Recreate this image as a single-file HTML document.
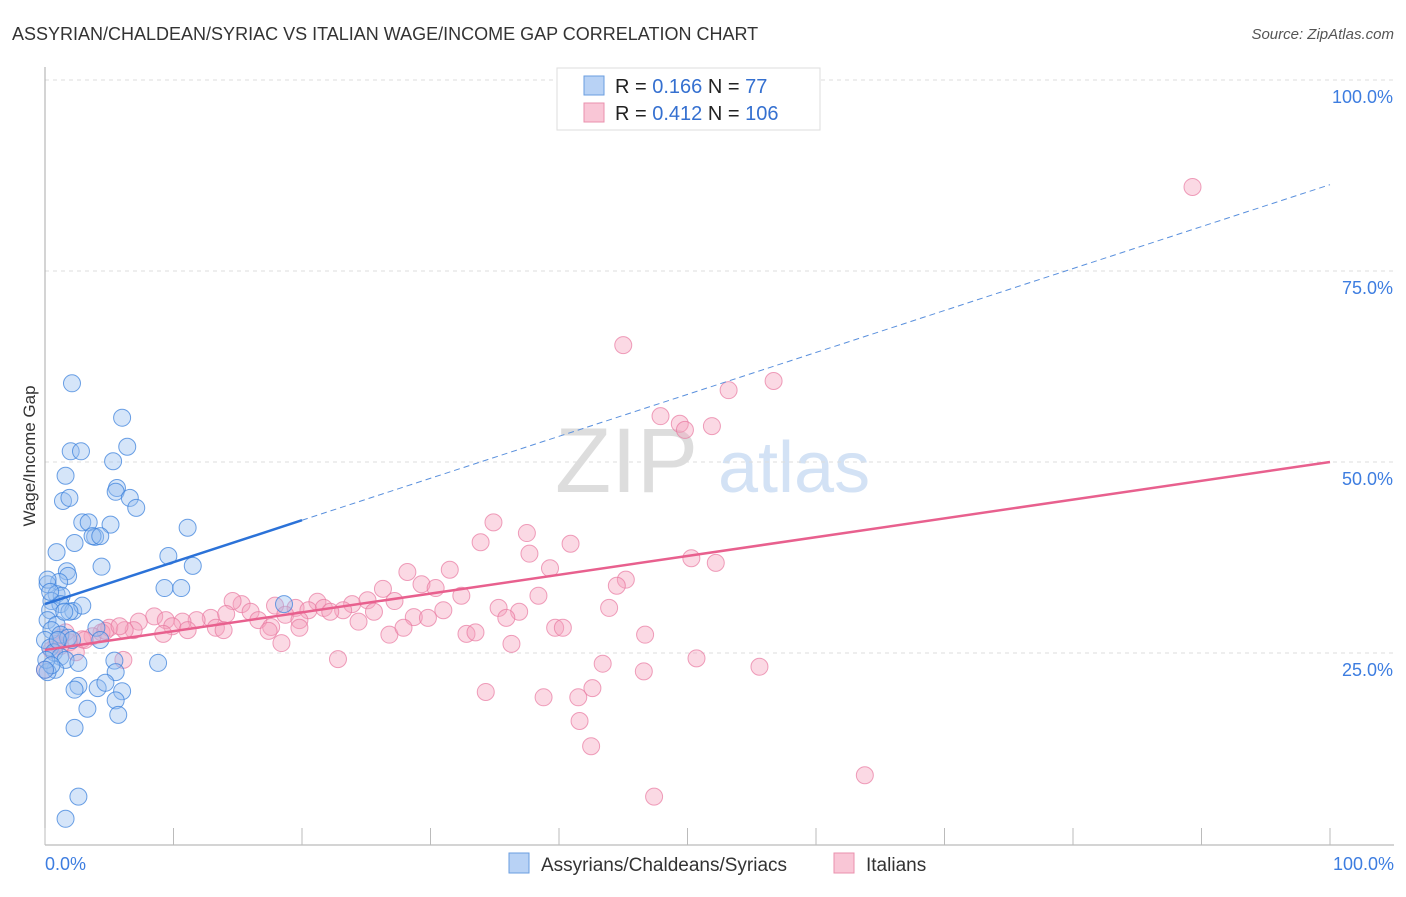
<!DOCTYPE html>
<html><head><meta charset="utf-8"><style>
body{margin:0;background:#fff;font-family:"Liberation Sans",sans-serif}
svg text{font-family:"Liberation Sans",sans-serif}
</style></head><body>
<svg id="c" width="1406" height="892">
<text x="12" y="40" font-size="18" fill="#333">ASSYRIAN/CHALDEAN/SYRIAC VS ITALIAN WAGE/INCOME GAP CORRELATION CHART</text>
<text x="1394" y="39" font-size="15" fill="#555" font-style="italic" text-anchor="end">Source: ZipAtlas.com</text>
<text x="35" y="456" font-size="17" fill="#333" text-anchor="middle" transform="rotate(-90 35 456)">Wage/Income Gap</text>
<text x="555" y="492" font-size="92" fill="#ddd" font-family="Liberation Serif">ZIP</text>
<text x="718" y="492" font-size="72" fill="#d3e2f5">atlas</text>
<g id="grid"></g><g id="axes"></g><g id="pts"></g><g id="lines"></g>
<g>
<rect x="557" y="68" width="263" height="62" fill="#fff" stroke="#ddd"/>
<rect x="584" y="76" width="20" height="19" fill="#b8d2f5" stroke="#6a9ee0"/>
<rect x="584" y="103" width="20" height="19" fill="#f9c6d6" stroke="#ea90ad"/>
<text x="615" y="93" font-size="20" fill="#222">R = <tspan fill="#3570d0">0.166</tspan>   N = <tspan fill="#3570d0">  77</tspan></text>
<text x="615" y="120" font-size="20" fill="#222">R = <tspan fill="#3570d0">0.412</tspan>   N = <tspan fill="#3570d0">106</tspan></text>
</g>
<g>
<rect x="509" y="853" width="20" height="20" fill="#b8d2f5" stroke="#6a9ee0"/>
<text x="541" y="871" font-size="19" fill="#333">Assyrians/Chaldeans/Syriacs</text>
<rect x="834" y="853" width="20" height="20" fill="#f9c6d6" stroke="#ea90ad"/>
<text x="866" y="871" font-size="19" fill="#333">Italians</text>
</g>
</svg>
<script>
const blueX=[2.1,6.0,2.0,2.8,6.4,1.6,5.3,1.4,1.9,5.6,5.5,6.6,7.1,2.9,3.4,5.1,11.1,3.9,3.7,4.3,2.3,0.9,9.6,11.5,4.4,1.7,1.8,1.1,0.2,9.3,10.6,0.9,1.3,0.5,1.2,2.2,2.9,0.4,18.6,1.9,0.2,0.9,0.5,4.0,1.2,0.0,1.8,2.1,4.3,0.4,0.7,1.2,1.6,2.6,5.4,8.8,0.8,5.5,0.2,6.0,4.1,2.6,2.3,4.7,5.5,3.3,5.7,2.3,2.6,1.6,0.2,0.4,1.0,0.1,0.5,1.5,0.0];
const blueY=[60.3,55.8,51.4,51.4,52.0,48.2,50.1,44.9,45.3,46.6,46.1,45.3,44.0,42.1,42.1,41.8,41.4,40.2,40.3,40.3,39.4,38.2,37.7,36.4,36.3,35.7,35.1,34.3,34.0,33.5,33.5,32.7,32.5,31.8,31.4,30.5,31.2,30.6,31.4,30.4,29.3,28.7,28.0,28.3,27.4,26.7,27.0,26.7,26.7,25.7,25.1,24.5,24.1,23.7,24.0,23.7,22.8,22.5,22.5,20.0,20.4,20.7,20.2,21.1,18.8,17.7,16.9,15.2,6.2,3.3,34.6,33.0,26.7,24.1,23.4,30.4,22.8];
const pinkX=[89.3,45.0,56.7,53.2,47.9,49.4,49.8,51.9,34.9,37.5,33.9,40.9,37.7,50.3,52.2,39.3,28.2,31.5,26.3,45.2,44.5,29.3,30.4,32.4,27.2,38.4,15.3,14.6,17.9,21.2,23.9,25.1,19.5,20.5,21.7,23.2,35.3,36.9,43.9,8.5,9.4,7.3,12.9,11.8,10.7,9.9,14.1,16.0,16.6,17.6,18.7,19.8,22.2,25.6,28.7,29.8,31.0,24.4,35.9,17.4,19.8,13.3,13.9,11.1,9.2,6.9,5.0,4.4,3.7,2.9,1.9,1.2,0.5,2.4,4.7,6.2,5.8,26.8,27.9,32.8,33.5,39.7,40.3,46.7,36.3,18.4,22.8,50.7,43.4,55.6,46.6,34.3,38.8,41.5,42.6,41.6,42.5,63.8,47.4,0.0,6.1,1.2,3.1,0.9,1.6];
const pinkY=[86.0,65.3,60.6,59.4,56.0,55.0,54.2,54.7,42.1,40.7,39.5,39.3,38.0,37.4,36.8,36.1,35.6,35.9,33.4,34.6,33.8,34.0,33.5,32.5,31.8,32.5,31.4,31.8,31.2,31.7,31.4,31.9,30.9,30.6,30.9,30.6,30.9,30.4,30.9,29.8,29.3,29.1,29.6,29.3,29.1,28.5,30.1,30.4,29.3,28.4,30.0,29.3,30.4,30.4,29.7,29.6,30.6,29.1,29.6,27.9,28.3,28.3,28.0,28.0,27.5,28.0,28.3,27.7,27.2,26.8,26.4,25.9,25.4,25.1,27.9,28.0,28.5,27.4,28.3,27.5,27.7,28.3,28.3,27.4,26.2,26.3,24.2,24.3,23.6,23.2,22.6,19.9,19.2,19.2,20.4,16.1,12.8,9.0,6.2,22.8,24.1,27.0,26.7,26.2,27.7];
const yTickVals=[25,50,75,100];
const yTickLabels=["25.0%","50.0%","75.0%","100.0%"];
const xTickVals=[0,10,20,30,40,50,60,70,80,90,100];
const blueTrend=[31.4,86.3], blueSolidEnd=20;
const pinkTrend=[25.4,50.0];
const X=v=>45+v*12.85, Y=v=>844-v*7.64;
const NS="http://www.w3.org/2000/svg";
function mk(t,a,p){const e=document.createElementNS(NS,t);for(const k in a)e.setAttribute(k,a[k]);p.appendChild(e);return e;}
const grid=document.getElementById('grid'),axes=document.getElementById('axes'),pts=document.getElementById('pts'),lines=document.getElementById('lines');
yTickVals.forEach((v,i)=>{
 const l=mk('line',{x1:45,x2:1394,y1:Y(v),y2:Y(v),stroke:'#ddd','stroke-dasharray':'4,4'},grid);
 
 
 const t=mk('text',{x:1393,y:Y(v)+23,'font-size':18,fill:'#3d7de0','text-anchor':'end'},axes);
 t.textContent=yTickLabels[i];
 
 
});
const ya=mk('line',{x1:45,x2:45,y1:67,y2:845,stroke:'#aaa'},axes);


const xa=mk('line',{x1:45,x2:1394,y1:845,y2:845,stroke:'#aaa'},axes);


xTickVals.forEach(v=>{
 const t=mk('line',{x1:X(v),x2:X(v),y1:828,y2:845,stroke:'#bbb'},axes);
 
 
});
const xl0=mk('text',{x:45,y:870,'font-size':18,fill:'#3d7de0'},axes);xl0.textContent='0.0%';


const xl1=mk('text',{x:1394,y:870,'font-size':18,fill:'#3d7de0','text-anchor':'end'},axes);xl1.textContent='100.0%';


pinkX.forEach((x,i)=>{
 const c=mk('circle',{cx:X(x),cy:Y(pinkY[i]),r:8.5,fill:'rgba(244,160,188,0.4)',stroke:'rgba(232,120,160,0.7)'},pts);
 
 
});
blueX.forEach((x,i)=>{
 const c=mk('circle',{cx:X(x),cy:Y(blueY[i]),r:8.5,fill:'rgba(150,190,240,0.4)',stroke:'rgba(60,130,220,0.75)'},pts);
 
 
});
const bAt=x=>blueTrend[0]+(blueTrend[1]-blueTrend[0])*x/100;
const b1=mk('line',{x1:X(0),y1:Y(bAt(0)),x2:X(blueSolidEnd),y2:Y(bAt(blueSolidEnd)),stroke:'#2b72d8','stroke-width':2.5},lines);


const b2=mk('line',{x1:X(blueSolidEnd),y1:Y(bAt(blueSolidEnd)),x2:X(100),y2:Y(bAt(100)),stroke:'#5a90dd','stroke-width':1,'stroke-dasharray':'6,4'},lines);


const p1=mk('line',{x1:X(0),y1:Y(pinkTrend[0]),x2:X(100),y2:Y(pinkTrend[1]),stroke:'#e8608e','stroke-width':2.5},lines);


</script>
</body></html>
